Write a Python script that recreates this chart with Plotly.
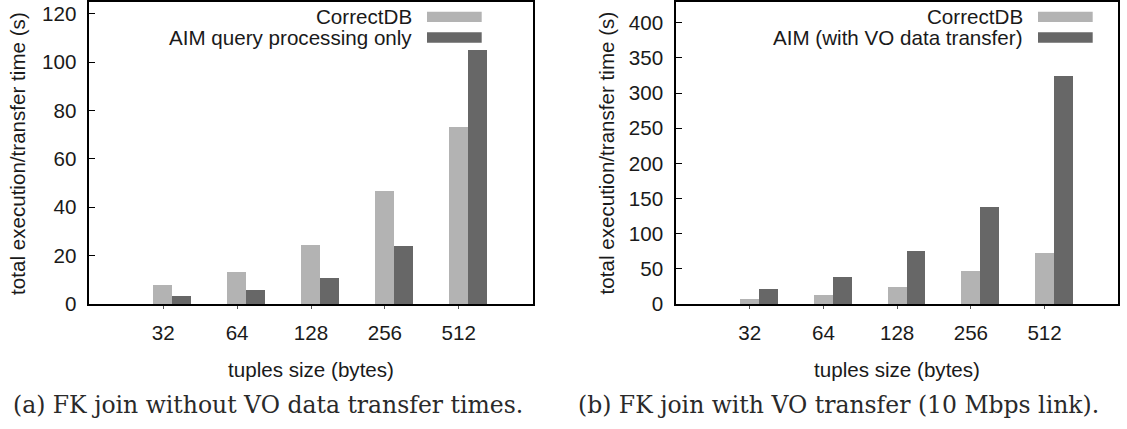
import plotly.graph_objects as go

# Tuple sizes (bytes) on the x axis
sizes = ["32", "64", "128", "256", "512"]

# Total execution / transfer time in seconds
correctdb = [8.1, 13.4, 24.7, 46.8, 73.5]
aim_query_only = [3.6, 6.0, 10.9, 24.2, 105.2]
aim_with_vo = [21.2, 38.8, 76.2, 138.6, 324.2]

legend_left = ["CorrectDB", "AIM query processing only"]
legend_right = ["CorrectDB", "AIM (with VO data transfer)"]

captions = ["(a) FK join without VO data transfer times.",
            "(b) FK join with VO transfer (10 Mbps link)."]

LIGHT = "#b3b3b3"
DARK = "#676767"
FONT = "Liberation Sans"
FSIZE = 20.6
BAR_W = 0.255

W, H = 1127, 429
positions = list(range(1, len(sizes) + 1))

fig = go.Figure()

panels = [
    dict(xa="x", ya="y", dark=aim_query_only, legend=legend_left, ymax=125, dtick=20),
    dict(xa="x2", ya="y2", dark=aim_with_vo, legend=legend_right, ymax=430, dtick=50),
]

for p in panels:
    fig.add_trace(go.Bar(x=positions, y=correctdb, width=BAR_W, offset=-BAR_W / 2,
                         marker=dict(color=LIGHT, line=dict(width=0)),
                         xaxis=p["xa"], yaxis=p["ya"], showlegend=False))
    fig.add_trace(go.Bar(x=positions, y=p["dark"], width=BAR_W, offset=BAR_W / 2,
                         marker=dict(color=DARK, line=dict(width=0)),
                         xaxis=p["xa"], yaxis=p["ya"], showlegend=False))

x_domains = [[89.3 / W, 532.7 / W], [676.0 / W, 1118.3 / W]]
y_domain = [(H - 312.0) / H, (H - 1.7) / H]

axis_common = dict(showline=True, linecolor="black", linewidth=1.5, mirror=True,
                   showgrid=False, zeroline=False,
                   tickfont=dict(family=FONT, size=FSIZE, color="#1a1a1a"))

for i, p in enumerate(panels):
    sfx = "" if i == 0 else str(i + 1)
    fig.update_layout(**{
        "xaxis" + sfx: dict(axis_common, domain=x_domains[i], range=[0, 6],
                            tickmode="array", tickvals=positions, ticktext=sizes,
                            ticks="outside", ticklen=3, tickcolor="#555",
                            ticklabelstandoff=7, anchor="y" + sfx),
        "yaxis" + sfx: dict(axis_common, domain=y_domain, range=[0, p["ymax"]],
                            dtick=p["dtick"], ticks="inside", ticklen=6,
                            tickcolor="black", anchor="x" + sfx,
                            ticklabelstandoff=7),
    })

annotations = []
shapes = []

title_font = dict(family=FONT, size=FSIZE, color="#1a1a1a")
caption_centers = [268 / W, 838 / W]
for i, p in enumerate(panels):
    x0, x1 = x_domains[i]
    xc = (x0 + x1) / 2
    # x axis title
    annotations.append(dict(text="tuples size (bytes)", x=xc, y=(H - 379) / H,
                            xref="paper", yref="paper", showarrow=False,
                            xanchor="center", yanchor="middle", font=title_font))
    # y axis title
    yx = (17.5 if i == 0 else 606) / W
    annotations.append(dict(text="total execution/transfer time (s)", x=yx,
                            y=(H - 157.5) / H, xref="paper", yref="paper",
                            showarrow=False, textangle=-90,
                            xanchor="center", yanchor="middle", font=title_font))
    # caption
    annotations.append(dict(text=captions[i], x=caption_centers[i],
                            y=(H - 416) / H,
                            xref="paper", yref="paper", showarrow=False,
                            xanchor="center", yanchor="middle",
                            font=dict(family="DejaVu Serif", size=23.5, color="#2a2a2a")))

    # legend: right-aligned labels with swatches on the right
    sw_x1 = (481.7 if i == 0 else 1092.7) / W
    sw_x0 = sw_x1 - 54.7 / W
    txt_x = sw_x0 - 13 / W
    for k, (label, col) in enumerate(zip(p["legend"], [LIGHT, DARK])):
        yc = 17.4 + k * 21.1
        shapes.append(dict(type="rect", xref="paper", yref="paper",
                           x0=sw_x0, x1=sw_x1,
                           y0=(H - yc - 5.3) / H, y1=(H - yc + 5.3) / H,
                           fillcolor=col, line=dict(width=0)))
        annotations.append(dict(text=label, x=txt_x, y=(H - yc) / H,
                                xref="paper", yref="paper", showarrow=False,
                                xanchor="right", yanchor="middle", font=title_font))

fig.update_layout(width=W, height=H, margin=dict(l=0, r=0, t=0, b=0),
                  paper_bgcolor="white", plot_bgcolor="white",
                  barmode="overlay", bargap=0,
                  annotations=annotations, shapes=shapes)

fig.write_html("out.html")
